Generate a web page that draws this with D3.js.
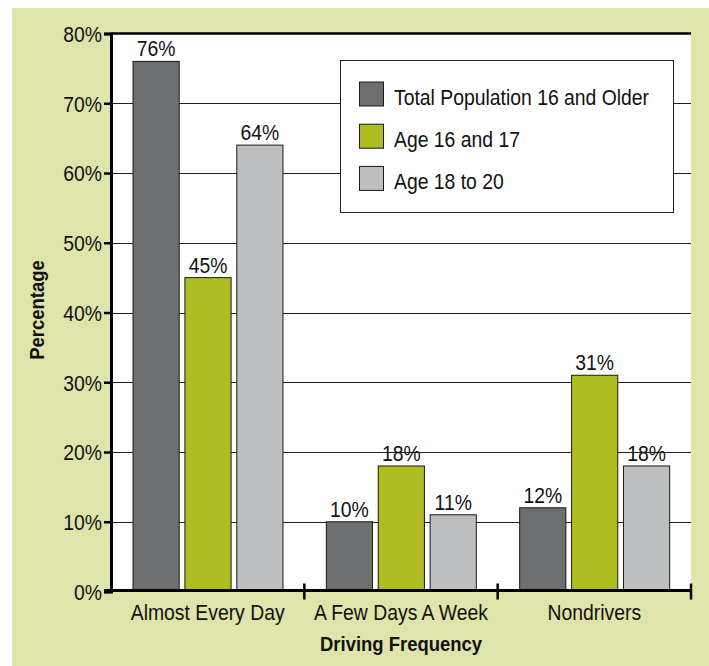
<!DOCTYPE html>
<html>
<head>
<meta charset="utf-8">
<script src="https://cdn.jsdelivr.net/npm/d3@7"></script>
<style>
  body { margin: 0; background: #fff; }
  text { font-family: "Liberation Sans", Arial, sans-serif; fill: #111; }
</style>
</head>
<body>
<svg class="svg" width="709" height="666"></svg>
<script>
// chart data
var categories = ['Almost Every Day', 'A Few Days A Week', 'Nondrivers'];
var seriesNames = ['Total Population 16 and Older', 'Age 16 and 17', 'Age 18 to 20'];
var totalPop = [76, 10, 12];
var age16to17 = [45, 18, 31];
var age18to20 = [64, 11, 18];
var yTicks = [0, 10, 20, 30, 40, 50, 60, 70, 80];

var seriesValues = [totalPop, age16to17, age18to20];
var colors = ['#6d6e70', '#afbd22', '#bdbec0'];

var svg = d3.select('.svg');
var plotLeft = 111, plotRight = 691, plotTop = 33.5, plotBottom = 591.5;
var squeeze = 0.88; // condensed look of the original typeface

// place text at (x,y) and squeeze it horizontally
function narrow(x, y, k) {
  return 'translate(' + x + ',' + y + ') scale(' + (k || squeeze) + ',1)';
}

// background panel
svg.append('rect')
  .attr('x', 12).attr('y', 8)
  .attr('width', 697).attr('height', 658)
  .attr('fill', '#dfe4aa');

// white plot area
svg.append('rect')
  .attr('x', plotLeft).attr('y', plotTop)
  .attr('width', plotRight - plotLeft).attr('height', plotBottom - plotTop)
  .attr('fill', '#fff');

var y = d3.scaleLinear().domain([0, 80]).range([plotBottom, plotTop]);

var x0 = d3.scaleBand().domain(categories).range([plotLeft, plotRight]);
var x1 = d3.scaleBand().domain(d3.range(3)).range([22, 172]).paddingInner(0.11);

//gridlines
svg.append('g').selectAll('line')
  .data(yTicks.filter(d => d > 0 && d < 80))
  .enter().append('line')
  .attr('x1', plotLeft).attr('x2', plotRight)
  .attr('y1', d => Math.round(y(d)) + 0.5).attr('y2', d => Math.round(y(d)) + 0.5)
  .attr('stroke', '#222').attr('stroke-width', 1);

// top line
svg.append('line')
  .attr('x1', plotLeft).attr('x2', plotRight)
  .attr('y1', y(80)).attr('y2', y(80))
  .attr('stroke', '#000').attr('stroke-width', 2.5);

// bars
var rows = [];
categories.forEach(function (c, ci) {
  seriesValues.forEach(function (s, si) {
    rows.push({ cat: c, series: si, value: s[ci] });
  });
});

svg.append('g').selectAll('rect')
  .data(rows)
  .enter().append('rect')
  .attr('x', d => x0(d.cat) + x1(d.series))
  .attr('y', d => y(d.value))
  .attr('width', x1.bandwidth())
  .attr('height', d => y(0) - y(d.value))
  .attr('fill', d => colors[d.series])
  .attr('stroke', '#1a1a1a')
  .attr('stroke-width', 1);

// value labels
svg.append('g').selectAll('text')
  .data(rows)
  .enter().append('text')
  .attr('transform', d => narrow(x0(d.cat) + x1(d.series) + x1.bandwidth() / 2, y(d.value) - 5))
  .attr('text-anchor', 'middle')
  .attr('font-size', 22)
  .text(d => d.value + '%');

// legend
var legend = svg.append('g');
legend.append('rect')
  .attr('x', 340.5).attr('y', 60.5)
  .attr('width', 333).attr('height', 152)
  .attr('fill', '#fff').attr('stroke', '#222').attr('stroke-width', 1);
seriesNames.forEach(function (name, i) {
  legend.append('rect')
    .attr('x', 359.5).attr('y', 82 + i * 42.2)
    .attr('width', 24).attr('height', 24)
    .attr('fill', colors[i]).attr('stroke', '#1a1a1a').attr('stroke-width', 1);
  legend.append('text')
    .attr('transform', narrow(394, 105 + i * 42.2))
    .attr('font-size', 22)
    .text(name);
});

// y axis
var yAxis = svg.append('g')
  .attr('transform', 'translate(' + plotLeft + ',0)')
  .call(d3.axisLeft(y).tickValues(yTicks).tickSize(7).tickPadding(2).tickFormat(d => d + '%'));
yAxis.select('.domain').attr('stroke', '#000').attr('stroke-width', 3);
yAxis.selectAll('.tick line').attr('stroke', '#000').attr('stroke-width', 2.5);
yAxis.selectAll('.tick text')
  .attr('x', 0).attr('dy', '0.36em')
  .attr('transform', narrow(-9, 0))
  .attr('font-size', 22).attr('fill', '#111')
  .attr('font-family', '"Liberation Sans", Arial, sans-serif');

// x axis
var xAxis = svg.append('g');
xAxis.append('line')
  .attr('x1', plotLeft - 7).attr('x2', plotRight)
  .attr('y1', plotBottom - 1).attr('y2', plotBottom - 1)
  .attr('stroke', '#000').attr('stroke-width', 3);
xAxis.selectAll('.xtick')
  .data(categories)
  .enter().append('line')
  .attr('class', 'xtick')
  .attr('x1', d => x0(d) + x0.bandwidth()).attr('x2', d => x0(d) + x0.bandwidth())
  .attr('y1', plotBottom - 8).attr('y2', plotBottom + 8)
  .attr('stroke', '#000').attr('stroke-width', 2.5);
xAxis.selectAll('.xlabel')
  .data(categories)
  .enter().append('text')
  .attr('class', 'xlabel')
  .attr('transform', d => narrow(x0(d) + x0.bandwidth() / 2, 620))
  .attr('text-anchor', 'middle')
  .attr('font-size', 22)
  .text(d => d);

// axis titles
svg.append('text')
  .attr('transform', narrow((plotLeft + plotRight) / 2, 651, 0.9))
  .attr('text-anchor', 'middle')
  .attr('font-size', 20.5).attr('font-weight', 'bold')
  .text('Driving Frequency');

svg.append('text')
  .attr('transform', 'translate(44,310) rotate(-90) scale(0.9,1)')
  .attr('text-anchor', 'middle')
  .attr('font-size', 20.5).attr('font-weight', 'bold')
  .text('Percentage');
</script>
</body>
</html>
